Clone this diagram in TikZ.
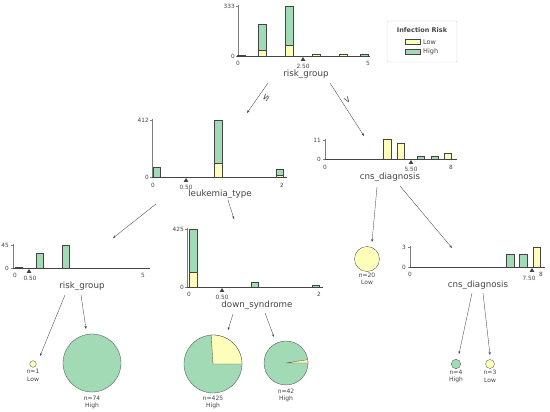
\documentclass[tikz,border=0pt]{standalone}
\usepackage{fontspec}
\setmainfont{DejaVu Sans}
\usetikzlibrary{arrows.meta}
\definecolor{txt}{HTML}{444443}
\definecolor{cyel}{HTML}{FEFEBB}
\definecolor{cgrn}{HTML}{A1DAB4}
\definecolor{legb}{HTML}{CCCCCC}
% stacked bar: #1 centre x, #2 baseline y, #3 yellow height, #4 green height
\newcommand{\stbar}[4]{%
  \ifdim #3pt>0pt \filldraw[barst,fill=cyel] (#1-3.75,#2) rectangle (#1+3.75,#2-#3);\fi
  \ifdim #4pt>0pt \filldraw[barst,fill=cgrn] (#1-3.75,#2-#3) rectangle (#1+3.75,#2-#3-#4);\fi}
% axes: #1 x0, #2 x1, #3 baseline, #4 top
\newcommand{\haxes}[4]{%
  \draw[yax] (#1,#4-1) -- (#1,#3);
  \draw[yax] (#1-1.8,#4) -- (#1,#4);
  \draw[yax] (#1-1.8,#3) -- (#1,#3);
  \draw[xax] (#1,#3) -- (#2,#3);}
% split marker: #1 x, #2 baseline
\newcommand{\splitmark}[2]{\fill[txt] (#1,#2+1) -- (#1-2.3,#2+4.8) -- (#1+2.3,#2+4.8) -- cycle;}
\begin{document}
\begin{tikzpicture}[x=1pt,y=-1pt,
  lab/.style={text=txt,font=\fontsize{8.7}{9}\selectfont,inner sep=0pt},
  tick/.style={text=txt,font=\fontsize{5.8}{6}\selectfont,inner sep=0pt},
  leaf/.style={text=txt,font=\fontsize{6}{6.5}\selectfont,inner sep=0pt},
  elab/.style={text=txt,font=\fontsize{9}{9}\selectfont,inner sep=0pt},
  arr/.style={draw=txt,line width=0.35pt,-{Stealth[length=3pt,width=2.2pt]}},
  barst/.style={draw=txt,line width=0.3pt},
  yax/.style={draw=txt!70,line width=0.3pt},
  xax/.style={draw=txt,line width=0.4pt},
  pieedge/.style={draw=txt,line width=0.3pt},
  leafdot/.style={circle,draw=txt,line width=0.3pt,inner sep=0pt}]
\useasboundingbox (0,0) rectangle (550,412);

% ---------- root: risk_group ----------
\haxes{238}{370}{56}{6}
\stbar{241}{56}{0}{1}
\stbar{262}{56}{6}{26}
\stbar{289}{56}{11}{39}
\stbar{316}{56}{1.5}{0}
\stbar{343}{56}{1.5}{0}
\stbar{364}{56}{0}{1.5}
\node[tick,anchor=east] (r333) at (235,6) {333};
\node[tick,anchor=east] (ry0) at (235,56) {0};
\node[tick] (rx0) at (238,63) {0};
\node[tick] (rx5) at (368,63) {5};
\splitmark{303}{56}
\node[tick] (rthr) at (303,66.5) {2.50};
\node[lab] (root) at (306,74) {risk\_group};

% ---------- leukemia_type ----------
\haxes{152}{287}{177}{120}
\stbar{156.5}{177}{0}{10}
\stbar{218}{177}{14}{43}
\stbar{279.5}{177}{2}{6}
\node[tick,anchor=east] (l412) at (149,120) {412};
\node[tick,anchor=east] (ly0) at (149,177) {0};
\node[tick] (lx0) at (153,185) {0};
\node[tick] (lx2) at (282,185) {2};
\splitmark{186}{177}
\node[tick] (lthr) at (186,187.5) {0.50};
\node[lab] (leuk) at (220,194) {leukemia\_type};

% ---------- cns_diagnosis (top) ----------
\haxes{325}{457}{159}{140}
\stbar{387}{159}{19.5}{0}
\stbar{400.5}{159}{16}{0}
\stbar{420.5}{159}{0}{3}
\stbar{434.5}{159}{0}{3}
\stbar{447.5}{159}{6}{0}
\node[tick,anchor=east] (c11) at (321,140) {11};
\node[tick,anchor=east] (cy0) at (321,159) {0};
\node[tick] (cx0) at (325,167) {0};
\node[tick] (cx8) at (451,167) {8};
\splitmark{411}{159}
\node[tick] (cthr) at (411,169) {5.50};
\node[lab] (cns) at (390,177) {cns\_diagnosis};

% ---------- risk_group (left) ----------
\haxes{13}{150}{268}{245}
\stbar{18.5}{268}{0}{1}
\stbar{39.5}{268}{0}{15}
\stbar{65.5}{268}{0}{23}
\node[tick,anchor=east] (k45) at (9,245) {45};
\node[tick,anchor=east] (ky0) at (9,268) {0};
\node[tick] (kx0) at (15,275) {0};
\node[tick] (kx5) at (143,275) {5};
\splitmark{29}{268}
\node[tick] (kthr) at (30,278.5) {0.50};
\node[lab] (risk2) at (82,286) {risk\_group};

% ---------- down_syndrome ----------
\haxes{187}{323}{287}{229}
\stbar{193}{287}{15}{43}
\stbar{254.5}{287}{0}{5}
\stbar{315.5}{287}{0}{2}
\node[tick,anchor=east] (d425) at (184,229) {425};
\node[tick,anchor=east] (dy0) at (184,287) {0};
\node[tick] (dx0) at (189,294) {0};
\node[tick] (dx2) at (319,294) {2};
\splitmark{222}{287}
\node[tick] (dthr) at (222,297.5) {0.50};
\node[lab] (down) at (257,305) {down\_syndrome};

% ---------- cns_diagnosis (right) ----------
\haxes{410}{545}{267}{247}
\stbar{510}{267}{0}{13}
\stbar{523}{267}{0}{13}
\stbar{536.5}{267}{20}{0}
\node[tick,anchor=east] (e3) at (406,247) {3};
\node[tick,anchor=east] (ey0) at (406,267) {0};
\node[tick] (ex0) at (410,274) {0};
\node[tick] (ex8) at (541,274) {8};
\splitmark{532}{267}
\node[tick] (ethr) at (529,278.5) {7.50};
\node[lab] (cns2) at (478,285) {cns\_diagnosis};

% ---------- leaves ----------
\node[leafdot,fill=cyel,minimum size=6.6pt] (lf1) at (33,364) {};
\node[leaf] (lf1n) at (33,371.5) {n=1};
\node[leaf] (lf1c) at (33,379) {Low};

\node[leafdot,fill=cgrn,minimum size=58pt] (lf74) at (92,363) {};
\node[leaf] (lf74n) at (92,398) {n=74};
\node[leaf] (lf74c) at (92,406) {High};

\begin{scope}[shift={(213,364)},y=1pt]
  \filldraw[pieedge,fill=cgrn] (0,0) circle[radius=29];
  \filldraw[pieedge,fill=cyel] (0,0) -- (0:29) arc[start angle=0,end angle=93.6,radius=29] -- cycle;
\end{scope}
\node[leaf] (lf425n) at (213,398) {n=425};
\node[leaf] (lf425c) at (213,406) {High};

\begin{scope}[shift={(286,363)},y=1pt]
  \filldraw[pieedge,fill=cgrn] (0,0) circle[radius=22];
  \filldraw[pieedge,fill=cyel] (0,0) -- (0:22) arc[start angle=0,end angle=8.6,radius=22] -- cycle;
\end{scope}
\node[leaf] (lf42n) at (286,391) {n=42};
\node[leaf] (lf42c) at (286,399) {High};

\node[leafdot,fill=cyel,minimum size=25pt] (lf20) at (367,259) {};
\node[leaf] (lf20n) at (367,275.5) {n=20};
\node[leaf] (lf20c) at (367,282.5) {Low};

\node[leafdot,fill=cgrn,minimum size=9.4pt] (lf4) at (456,364) {};
\node[leaf] (lf4n) at (456,372) {n=4};
\node[leaf] (lf4c) at (456,380) {High};

\node[leafdot,fill=cyel,minimum size=9pt] (lf3) at (490,364) {};
\node[leaf] (lf3n) at (490,372) {n=3};
\node[leaf] (lf3c) at (490,380) {Low};

% ---------- connectors ----------
\coordinate (s1) at (268,83);  \coordinate (t1) at (247,113);
\coordinate (s2) at (330,83);  \coordinate (t2) at (364,136);
\coordinate (s3) at (156,204); \coordinate (t3) at (113,238);
\coordinate (s4) at (228,200); \coordinate (t4) at (234,219);
\coordinate (s5) at (377,187); \coordinate (t5) at (372,242);
\coordinate (s6) at (400,186); \coordinate (t6) at (452,248);
\coordinate (s7) at (65,295);  \coordinate (t7) at (40,356);
\coordinate (s8) at (81,295);  \coordinate (t8) at (86,329);
\coordinate (s9) at (233,314); \coordinate (t9) at (228,330);
\coordinate (s10) at (265,313); \coordinate (t10) at (274,337);
\coordinate (s11) at (472,293); \coordinate (t11) at (459,354);
\coordinate (s12) at (483,293); \coordinate (t12) at (490,355);
\foreach \i in {1,...,12} {\draw[arr] (s\i) -- (t\i);}
\node[elab,rotate=55] (le) at (266,98) {≤};
\node[elab,rotate=-57] (gt) at (347,100) {>};

% ---------- legend ----------
\draw[legb,fill=white,line width=0.4pt,rounded corners=1pt] (387,21) rectangle (457,62);
\node[text=txt,font=\fontsize{6.5}{7}\bfseries,inner sep=0pt] (legt) at (422,30.5) {Infection Risk};
\filldraw[barst,fill=cyel] (405,39.5) rectangle (420,44);
\node[text=txt,font=\fontsize{6.5}{7}\selectfont,inner sep=0pt,anchor=west] (legl) at (423,42) {Low};
\filldraw[barst,fill=cgrn] (405,49.5) rectangle (420,54);
\node[text=txt,font=\fontsize{6.5}{7}\selectfont,inner sep=0pt,anchor=west] (legh) at (423,52) {High};
\end{tikzpicture}
\end{document}
